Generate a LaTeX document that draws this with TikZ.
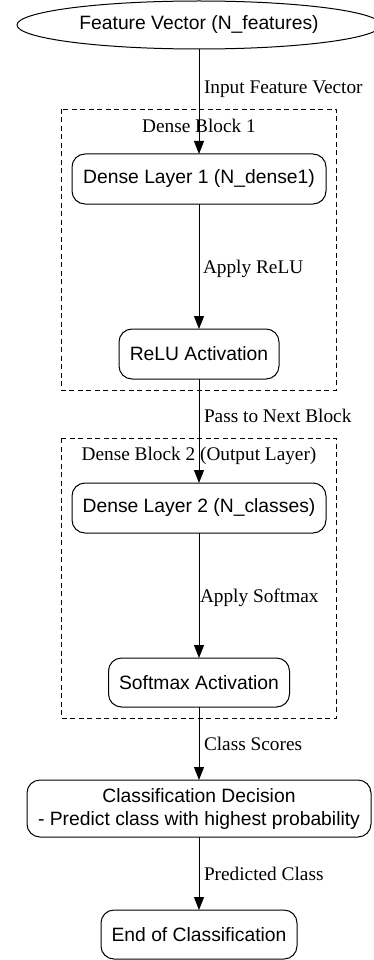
\documentclass[tikz,border=0pt]{standalone}
\usepackage{fontspec}
\setmainfont{Liberation Serif}
\newfontfamily\arialf{Liberation Sans}
\usetikzlibrary{arrows.meta,shapes.geometric}
\begin{document}
\begin{tikzpicture}[x=1pt,y=-1pt,
  every node/.style={inner sep=0pt,outer sep=0pt},
  box/.style={draw,line width=1pt,rounded corners=13pt,align=center,
    font=\arialf\fontsize{19.3}{23}\selectfont},
  oval/.style={draw,ellipse,line width=1pt,
    font=\arialf\fontsize{19.3}{23}\selectfont},
  elabel/.style={anchor=base west,font=\fontsize{19.3}{23}\selectfont},
  clabel/.style={anchor=base,font=\fontsize{19.3}{23}\selectfont},
  cluster/.style={draw,line width=0.9pt,dash pattern=on 5pt off 3.5pt},
  conn/.style={draw,line width=1pt,-{Triangle[length=13pt,width=10pt]}}]
\useasboundingbox (0,0) rectangle (374,960);
% clusters
\draw[cluster] (61,109) rectangle (336,390);
\node[clabel] (c1) at (199,132.7) {Dense Block 1};
\draw[cluster] (61,438) rectangle (336,718);
\node[clabel] (c2) at (199,460.7) {Dense Block 2 (Output Layer)};
% nodes
\node[oval,minimum width=364pt,minimum height=48pt] (fv) at (199,25) {Feature Vector (N\_features)};
\node[box,minimum width=254pt,minimum height=50pt] (d1) at (199,179) {Dense Layer 1 (N\_dense1)};
\node[box,minimum width=160pt,minimum height=50pt] (relu) at (199,354) {ReLU Activation};
\node[box,minimum width=254pt,minimum height=50pt] (d2) at (199,508) {Dense Layer 2 (N\_classes)};
\node[box,minimum width=181pt,minimum height=49pt] (sm) at (199,682.5) {Softmax Activation};
\node[box,minimum width=344pt,minimum height=57pt] (cd) at (199,808.5) {Classification Decision\\- Predict class with highest probability};
\node[box,minimum width=196pt,minimum height=49pt] (end) at (199,934.5) {End of Classification};
% connectors
\draw[conn] (fv) -- (d1);
\draw[conn] (d1) -- (relu);
\draw[conn] (relu) -- (d2);
\draw[conn] (d2) -- (sm);
\draw[conn] (sm) -- (cd);
\draw[conn] (cd) -- (end);
% edge labels
\node[elabel] (l1) at (204,94) {Input Feature Vector};
\node[elabel] (l2) at (203,273) {Apply ReLU};
\node[elabel] (l3) at (204,422) {Pass to Next Block};
\node[elabel] (l4) at (200,602) {Apply Softmax};
\node[elabel] (l5) at (204,750) {Class Scores};
\node[elabel] (l6) at (204,880) {Predicted Class};
\end{tikzpicture}
\end{document}
